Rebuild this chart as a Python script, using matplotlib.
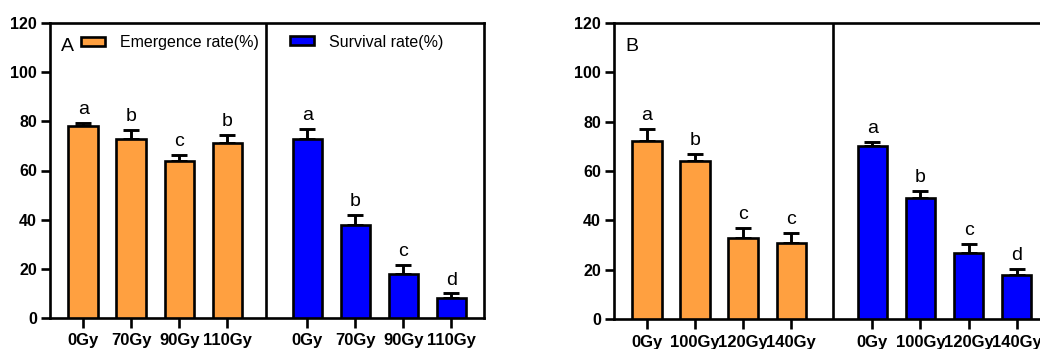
import matplotlib
matplotlib.use("Agg")
import matplotlib.pyplot as plt
import matplotlib.patches as mpatches
import numpy as np

plt.rcParams['font.family'] = ['Liberation Sans', 'DejaVu Sans']

# ---- data ----
doses_A = ["0Gy", "70Gy", "90Gy", "110Gy"]
emerg_A = [78, 73, 64, 71]
emerg_A_err = [1.4, 3.5, 2.5, 3.5]
emerg_A_sig = ["a", "b", "c", "b"]
surv_A = [73, 38, 18, 8]
surv_A_err = [4, 4, 3.5, 2]
surv_A_sig = ["a", "b", "c", "d"]

doses_B = ["0Gy", "100Gy", "120Gy", "140Gy"]
emerg_B = [72, 64, 33, 31]
emerg_B_err = [5, 3, 4, 4]
emerg_B_sig = ["a", "b", "c", "c"]
surv_B = [70, 49, 27, 18]
surv_B_err = [1.7, 3, 3.5, 2.5]
surv_B_sig = ["a", "b", "c", "d"]

series_labels = ["Emergence rate(%)", "Survival rate(%)"]
yticks = [0, 20, 40, 60, 80, 100, 120]

ORANGE = "#FFA040"
BLUE = "#0000FF"
LW = 1.9

fig = plt.figure(figsize=(10.4, 3.49), dpi=100)
axA = fig.add_axes([50/1040, 31/349, 434/1040, 295/349])
axB = fig.add_axes([614.3/1040, 29.7/349, 434/1040, 296.6/349])


def draw(ax, doses, e, ee, es, s, se, ss, gap, divider, xmin, letter):
    x1 = np.arange(len(doses))
    x2 = x1 + gap
    w = 0.61
    for xs, vals, errs, sigs, col in [(x1, e, ee, es, ORANGE), (x2, s, se, ss, BLUE)]:
        ax.bar(xs, vals, width=w, color=col, edgecolor="black", linewidth=LW, zorder=3)
        ax.errorbar(xs, vals, yerr=[np.zeros(len(errs)), errs], fmt="none",
                    ecolor="black", elinewidth=LW * 1.1, capsize=5.8, capthick=LW * 1.1, zorder=2)
        for xi, v, er, sg in zip(xs, vals, errs, sigs):
            ax.annotate(sg, (xi, v + er), xytext=(0, 3.5), textcoords="offset points",
                        ha="center", va="bottom", fontsize=14)
    ax.axvline(divider, color="black", lw=LW, zorder=4)
    ax.set_xlim(xmin, 8.35)
    ax.set_ylim(0, 120)
    ax.set_yticks(yticks)
    ax.set_yticklabels([str(t) for t in yticks], fontweight="bold", fontsize=11.5)
    ax.set_xticks(np.concatenate([x1, x2]))
    ax.set_xticklabels(doses + doses, fontweight="bold", fontsize=12)
    for sp in ax.spines.values():
        sp.set_linewidth(LW)
    ax.tick_params(axis="y", direction="out", length=6.5, width=LW, pad=3)
    ax.tick_params(axis="x", direction="out", length=7, width=LW, pad=4)
    ax.text(0.025, 0.95, letter, transform=ax.transAxes, fontsize=14, ha="left", va="top")
    return x1, x2


draw(axA, doses_A, emerg_A, emerg_A_err, emerg_A_sig, surv_A, surv_A_err, surv_A_sig,
     4.67, 3.81, -0.69, "A")
draw(axB, doses_B, emerg_B, emerg_B_err, emerg_B_sig, surv_B, surv_B_err, surv_B_sig,
     4.69, 3.86, -0.68, "B")

h1 = mpatches.Patch(facecolor=ORANGE, edgecolor="black", linewidth=LW)
h2 = mpatches.Patch(facecolor=BLUE, edgecolor="black", linewidth=LW)
common = dict(frameon=False, fontsize=11.5, handlelength=1.5, handleheight=0.5,
              handletextpad=0.95, borderpad=0, borderaxespad=0, loc="center left")
leg1 = axA.legend(handles=[h1], labels=[series_labels[0]],
                  bbox_to_anchor=(31/434, 1 - 20/295), **common)
axA.add_artist(leg1)
axA.legend(handles=[h2], labels=[series_labels[1]],
           bbox_to_anchor=(240/434, 1 - 19/295), **common)

fig.savefig("out.png", dpi=100)
